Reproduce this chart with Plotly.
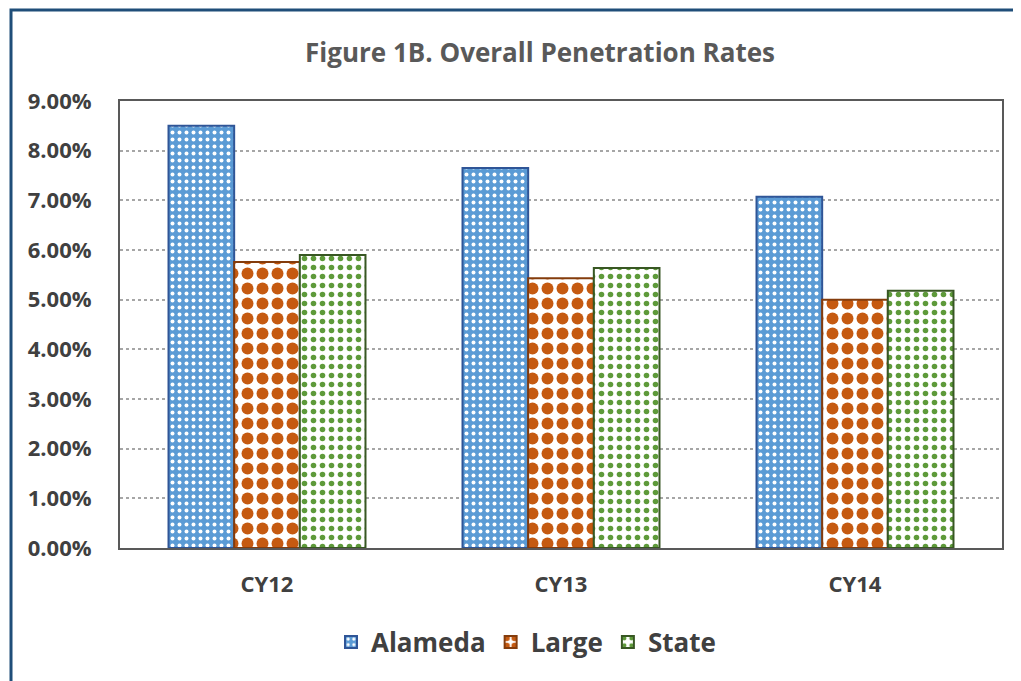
import plotly.graph_objects as go

categories = ["CY12", "CY13", "CY14"]
alameda = [0.0850, 0.0765, 0.0707]
large = [0.0576, 0.0543, 0.0500]
state = [0.0590, 0.0564, 0.0518]
tick_vals = [0, 0.01, 0.02, 0.03, 0.04, 0.05, 0.06, 0.07, 0.08, 0.09]
tick_text = ["0.00%", "1.00%", "2.00%", "3.00%", "4.00%", "5.00%", "6.00%", "7.00%", "8.00%", "9.00%"]
series_names = ["Alameda", "Large", "State"]

FONT = "Open Sans"
GREY = "#404040"

# page body has an 8px margin; compensate so the plot lands where the reference has it
OFF = 8
L, R, T, B = 120 - OFF, 1021 - (1002 - OFF), 101 - OFF, 681 - (548 - OFF)
PW = 1021 - L - R
PH = 681 - T - B

fig = go.Figure()
fig.add_bar(name="<b>%s</b>" % series_names[0], x=categories, y=alameda,
            marker=dict(color="#5B9BD5", line=dict(color="#2F5597", width=2),
                        pattern=dict(shape=".", fgcolor="white", bgcolor="#5B9BD5", size=7, solidity=0.25, fillmode="replace")))
fig.add_bar(name="<b>%s</b>" % series_names[1], x=categories, y=large,
            marker=dict(color="#C55A11", line=dict(color="#843C0C", width=2),
                        pattern=dict(shape=".", fgcolor="#C55A11", bgcolor="white", size=15, solidity=0.5, fillmode="replace")))
fig.add_bar(name="<b>%s</b>" % series_names[2], x=categories, y=state,
            marker=dict(color="white", line=dict(color="#385723", width=2),
                        pattern=dict(shape=".", fgcolor="#5E9A3A", bgcolor="white", size=9, solidity=0.3, fillmode="replace")))

fig.update_layout(
    width=1021, height=681,
    margin=dict(l=L, r=R, t=T, b=B),
    paper_bgcolor="white", plot_bgcolor="white",
    barmode="group", bargap=0.33, bargroupgap=0,
    title=dict(text="<b>Figure 1B. Overall Penetration Rates</b>", x=(540 - OFF) / 1021, xanchor="center",
               y=1 - (53 - OFF) / 681, yanchor="middle", font=dict(family=FONT, size=26, color="#595959")),
    font=dict(family=FONT, color=GREY),
    legend=dict(orientation="h", x=(526 - OFF - L) / PW, xanchor="center", y=(548 - 642) / PH, yanchor="middle",
                font=dict(family=FONT, size=26, color=GREY), itemwidth=30, traceorder="normal"),
    showlegend=True,
)
fig.update_yaxes(range=[0, 0.09], tickvals=tick_vals, ticktext=["<b>%s</b>" % t for t in tick_text],
                 tickfont=dict(family=FONT, size=22, color=GREY), ticklabelstandoff=22,
                 showgrid=True, gridcolor="#A6A6A6", griddash="dot", gridwidth=2,
                 showline=True, linecolor="#595959", linewidth=2, mirror=True, zeroline=False, ticks="")
fig.update_xaxes(tickmode="array", tickvals=categories, ticktext=["<b>%s</b>" % c for c in categories],
                 tickfont=dict(family=FONT, size=22, color=GREY), ticklabelstandoff=16,
                 showline=True, linecolor="#595959", linewidth=2, mirror=True, ticks="")

# outer frame (left and top edges visible)
fig.add_shape(type="rect", xref="paper", yref="paper",
              x0=(11 - OFF - L) / PW, x1=(1060 - L) / PW,
              y0=-(700 - T - PH) / PH, y1=1 + (T - (10 - OFF)) / PH,
              line=dict(color="#1F4E79", width=3), fillcolor="rgba(0,0,0,0)", layer="below")

fig.write_html("out.html")
